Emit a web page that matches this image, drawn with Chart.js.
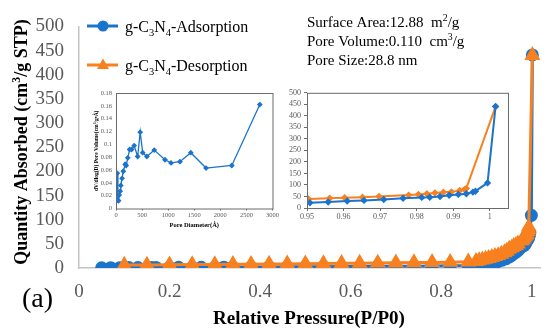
<!DOCTYPE html>
<html>
<head>
<meta charset="utf-8">
<script src="https://cdn.jsdelivr.net/npm/chart.js@4.4.0/dist/chart.umd.min.js"></script>
<style>
body{margin:0;background:#fff;}
#wrap{position:relative;width:550px;height:335px;}
canvas{position:absolute;}
</style>
</head>
<body>
<div id="wrap">
<canvas id="main" width="550" height="335" style="left:0;top:0"></canvas>
<canvas id="pore" width="200" height="148" style="left:80px;top:85px"></canvas>
<canvas id="zoom" width="230" height="140" style="left:285px;top:85px"></canvas>
</div>
<script>
// isotherm: relative pressure and quantity absorbed
const adsP = [0.05,0.07,0.09,0.11,0.13,0.16,0.17,0.20,0.22,0.25,0.27,0.30,0.32,0.34,0.38,0.42,0.46,0.50,0.54,0.58,0.62,0.66,0.70,0.74,0.78,0.82,0.86,
  0.88,0.895,0.905,0.915,0.925,0.935,0.943,
  0.9508,0.9558,0.961,0.9656,0.971,0.9763,0.9814,0.9836,0.9864,0.9889,0.9914,0.9936,0.9954,0.9961,0.9994,1.0016];
const adsQ = [0.5,0.6,0.7,0.8,0.9,1.0,1.1,1.2,1.3,1.4,1.5,1.6,1.7,1.8,2.0,2.2,2.4,2.6,2.8,3.0,3.2,3.4,3.6,3.8,4.1,4.4,5.0,
  6.5,8,9.5,11,13,16,19,
  23,26,30,33,37,42,46,47,50,55,59,62,69,73,109,441];
const desP = [0.10,0.15,0.20,0.25,0.30,0.34,0.38,0.42,0.46,0.50,0.54,0.58,0.62,0.66,0.70,0.74,0.78,0.82,0.86,
  0.877,0.884,0.891,0.898,0.905,0.912,0.919,0.926,0.933,0.94,0.945,
  0.9504,0.9562,0.9603,0.9652,0.9697,0.9778,0.9805,0.9828,0.985,0.9873,0.9895,0.9918,0.9931,0.9936,1.0016];
const desQ = [6,6.3,6.6,7,7.3,7.6,7.9,8.2,8.5,8.8,9.2,9.6,10,10.4,10.8,11.2,11.6,12,12.8,
  14,15.5,17,18.5,20,22,24,26,29,32,35,
  39,42,45,47,50,56,59,62,65,68,70,76,80,85,440];

// pore size distribution
const poreD = [17,24,37,49,61,80,92,116,140,177,195,226,262,299,348,415,464,512,592,732,939,1055,1226,1434,1726,2220,2757];
const poreV = [0.021,0.055,0.013,0.012,0.021,0.027,0.036,0.047,0.058,0.069,0.067,0.079,0.092,0.092,0.098,0.081,0.119,0.087,0.081,0.091,0.076,0.071,0.073,0.087,0.063,0.067,0.162];

const statLines = [
  [["Surface Area:12.88  m"],["2","sup"],["/g"]],
  [["Pore Volume:0.110  cm"],["3","sup"],["/g"]],
  [["Pore Size:28.8 nm"]]
];

const blue = '#1b74cc';
const orange = '#f8801f';
const grey = '#595959';
const serif = '"Liberation Serif", "Times New Roman", serif';

function fnt(size, bold){ return (bold ? 'bold ' : '') + size + 'px ' + serif; }

function richWidth(ctx, parts, size, bold){
  let w = 0;
  parts.forEach(p => {
    ctx.font = fnt(p[1] ? size*0.65 : size, bold);
    w += ctx.measureText(p[0]).width;
  });
  return w;
}
function drawRich(ctx, parts, x, y, size, bold, center){
  let cx = center ? x - richWidth(ctx, parts, size, bold)/2 : x;
  ctx.textAlign = 'left';
  ctx.textBaseline = 'alphabetic';
  parts.forEach(p => {
    ctx.font = fnt(p[1] ? size*0.65 : size, bold);
    let dy = p[1] == 'sup' ? -size*0.38 : (p[1] == 'sub' ? size*0.22 : 0);
    ctx.fillText(p[0], cx, y + dy);
    cx += ctx.measureText(p[0]).width;
  });
}

function pts(xs, ys, lo){
  let out = [];
  xs.forEach((x,i) => { if (lo === undefined || x >= lo) out.push({x: x, y: ys[i]}); });
  return out;
}

const fmt = v => String(+(+v).toFixed(2));

// text, legend and titles of the big chart
const mainDecor = {
  id: 'mainDecor',
  afterDraw(chart){
    const ctx = chart.ctx;
    ctx.save();
    ctx.fillStyle = '#000';

    // legend
    ctx.lineWidth = 3;
    ctx.strokeStyle = blue;
    ctx.beginPath(); ctx.moveTo(87,26); ctx.lineTo(118,26); ctx.stroke();
    ctx.fillStyle = blue;
    ctx.beginPath(); ctx.arc(103,26,5.5,0,Math.PI*2); ctx.fill();
    ctx.strokeStyle = orange;
    ctx.beginPath(); ctx.moveTo(87,65); ctx.lineTo(118,65); ctx.stroke();
    ctx.fillStyle = orange;
    ctx.beginPath(); ctx.moveTo(103,58.5); ctx.lineTo(109,69); ctx.lineTo(97,69); ctx.closePath(); ctx.fill();
    ctx.fillStyle = '#000';
    drawRich(ctx, [["g-C"],["3","sub"],["N"],["4","sub"],["-Adsorption"]], 125, 32, 16, false, false);
    drawRich(ctx, [["g-C"],["3","sub"],["N"],["4","sub"],["-Desorption"]], 125, 71, 16, false, false);

    // stats
    statLines.forEach((ln, i) => drawRich(ctx, ln, 307, 27 + i*19, 15, false, false));

    // axis titles
    drawRich(ctx, [["Relative Pressure(P/P0)"]], 309, 324, 19, true, true);
    ctx.save();
    ctx.translate(27, 142);
    ctx.rotate(-Math.PI/2);
    drawRich(ctx, [["Quantity Absorbed (cm"],["3","sup"],["/g STP)"]], 0, 0, 18, true, true);
    ctx.restore();

    drawRich(ctx, [["(a)"]], 22, 307, 28, false, false);
    ctx.restore();
  }
};

new Chart(document.getElementById('main'), {
  type: 'line',
  data: {
    datasets: [{
      label: 'g-C3N4-Adsorption',
      data: pts(adsP, adsQ),
      borderColor: blue,
      backgroundColor: blue,
      borderWidth: 3,
      pointStyle: 'circle',
      pointRadius: 5,
      order: 2
    }, {
      label: 'g-C3N4-Desorption',
      data: pts(desP, desQ),
      borderColor: orange,
      backgroundColor: orange,
      borderWidth: 3,
      pointStyle: 'triangle',
      pointRadius: 6.3,
      order: 1
    }]
  },
  options: {
    responsive: false,
    animation: false,
    layout: {padding: {top: 17, right: 8, left: 0, bottom: 0}},
    plugins: {legend: {display: false}, tooltip: {enabled: false}},
    scales: {
      x: {
        type: 'linear', min: 0, max: 1.02,
        afterFit(s){ s.height = 67; },
        grid: {display: false, drawTicks: false},
        border: {display: true, color: '#c4c4c4', width: 1.5},
        ticks: {stepSize: 0.2, includeBounds: false, autoSkip: false, maxRotation: 0, padding: 13, color: grey,
          font: {family: serif, size: 19}, callback: fmt}
      },
      y: {
        min: 0, max: 500,
        afterFit(s){ s.width = 79; },
        grid: {display: false, drawTicks: false},
        border: {display: true, color: '#c4c4c4', width: 1.5},
        ticks: {stepSize: 50, autoSkip: false, padding: 15, color: grey, font: {family: serif, size: 19}}
      }
    }
  },
  plugins: [mainDecor]
});

// frame around the small charts
function frame(xTitle, yTitle, yTitleX, xTitleY, ySize, xSize){
  return {
    id: 'frame',
    afterDraw(chart){
      const ctx = chart.ctx, a = chart.chartArea;
      ctx.save();
      ctx.strokeStyle = '#6b6b6b';
      ctx.lineWidth = 1;
      ctx.strokeRect(a.left + 0.5, a.top + 0.5, a.right - a.left, a.bottom - a.top);
      ctx.fillStyle = '#000';
      if (xTitle) drawRich(ctx, xTitle, (a.left + a.right)/2, xTitleY, xSize, true, true);
      if (yTitle) {
        ctx.translate(yTitleX, (a.top + a.bottom)/2);
        ctx.rotate(-Math.PI/2);
        drawRich(ctx, yTitle, 0, 0, ySize, true, true);
      }
      ctx.restore();
    }
  };
}

new Chart(document.getElementById('pore'), {
  type: 'line',
  data: {
    datasets: [{
      data: pts(poreD, poreV),
      borderColor: blue,
      backgroundColor: blue,
      borderWidth: 1.3,
      pointStyle: 'rectRot',
      pointRadius: 2
    }]
  },
  options: {
    responsive: false,
    animation: false,
    layout: {padding: {top: 8, right: 2, left: 0, bottom: 0}},
    plugins: {legend: {display: false}, tooltip: {enabled: false}},
    scales: {
      x: {
        type: 'linear', min: 0, max: 3000,
        afterFit(s){ s.height = 24.5; },
        grid: {drawOnChartArea: false, drawTicks: true, tickLength: 2, color: '#6b6b6b'},
        border: {display: false},
        ticks: {stepSize: 500, autoSkip: false, maxRotation: 0, padding: 1, color: grey,
          font: {family: serif, size: 6.5}, callback: v => String(v)}
      },
      y: {
        min: 0, max: 0.18,
        afterFit(s){ s.width = 36; },
        grid: {display: false, drawTicks: false},
        border: {display: false},
        ticks: {stepSize: 0.02, autoSkip: false, padding: 4, color: grey, font: {family: serif, size: 6.5}, callback: fmt}
      }
    }
  },
  plugins: [frame([["Pore Diameter(Å)"]], [["dV/dlog(D) Pore Volume(cm"],["3","sup"],["/g•Å)"]], 18, 142, 5.5, 6.5)]
});

new Chart(document.getElementById('zoom'), {
  type: 'line',
  data: {
    datasets: [{
      data: pts(adsP, adsQ, 0.95),
      borderColor: blue,
      backgroundColor: blue,
      borderWidth: 2,
      pointStyle: 'rectRot',
      pointRadius: 2.3
    }, {
      data: pts(desP, desQ, 0.95),
      borderColor: orange,
      backgroundColor: orange,
      borderWidth: 2,
      pointStyle: 'rectRot',
      pointRadius: 2.3
    }]
  },
  options: {
    responsive: false,
    animation: false,
    layout: {padding: {top: 7, right: 7, left: 0, bottom: 0}},
    plugins: {legend: {display: false}, tooltip: {enabled: false}},
    scales: {
      x: {
        type: 'linear', min: 0.95, max: 1.005,
        afterFit(s){ s.height = 17; },
        grid: {drawOnChartArea: false, drawTicks: true, tickLength: 3, color: '#6b6b6b'},
        border: {display: false},
        ticks: {stepSize: 0.01, includeBounds: false, autoSkip: false, maxRotation: 0, padding: 1, color: grey,
          font: {family: serif, size: 8}, callback: fmt}
      },
      y: {
        min: 0, max: 500,
        afterFit(s){ s.width = 22; },
        grid: {drawOnChartArea: false, drawTicks: true, tickLength: 3, color: '#6b6b6b'},
        border: {display: false},
        ticks: {stepSize: 50, autoSkip: false, padding: 3, color: grey, font: {family: serif, size: 8}}
      }
    }
  },
  plugins: [frame(null, null)]
});
</script>
</body>
</html>
